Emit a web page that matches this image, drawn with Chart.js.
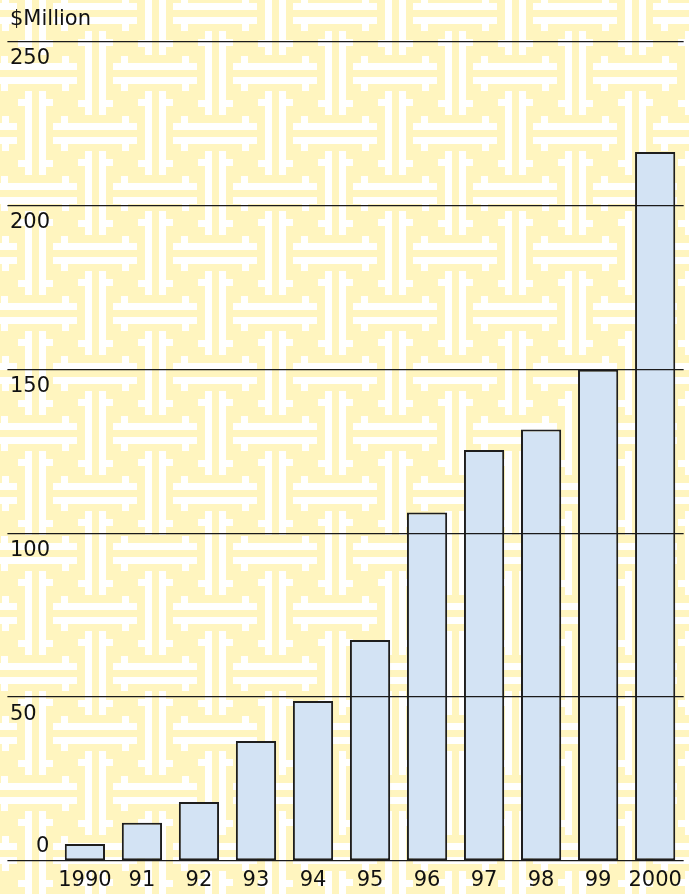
<!DOCTYPE html>
<html lang="en">
<head>
<meta charset="UTF-8">
<title>$Million</title>
<script src="https://cdn.jsdelivr.net/npm/chart.js"></script>
<style>
  html, body { margin: 0; padding: 0; }
  #wrap { width: 689px; height: 894px; }
</style>
</head>
<body>
<div id="wrap"><canvas id="myChart"></canvas></div>
<script>
// data ($ million per year)
var years = ['1990', '91', '92', '93', '94', '95', '96', '97', '98', '99', '2000'];
var amounts = [5.2, 11.7, 18.0, 36.6, 48.8, 67.4, 106.3, 125.4, 131.6, 149.9, 216.3];
var yMin = 0;
var yMax = 250;
var yStep = 50;

Chart.defaults.font.family = 'DejaVu Sans';
Chart.defaults.color = '#111';

// one fret motif, horizontal orientation: [x, y, w, h] around its centre
var motif = [
  [-42, -10.5, 84, 7], [-42, 3.5, 84, 7],
  [-34, -17.5, 7, 7], [27, -17.5, 7, 7],
  [-34, 10.5, 7, 7], [27, 10.5, 7, 7]
];

const fretBackground = {
  id: 'fretBackground',
  beforeDraw(chart) {
    const ctx = chart.ctx;
    const w = chart.width, h = chart.height;
    ctx.save();
    ctx.fillStyle = '#FFF5BF';
    ctx.fillRect(0, 0, w, h);
    ctx.fillStyle = '#FFFFFF';
    for (let j = -1; j <= Math.ceil(h / 60) + 1; j++) {
      for (let i = -1; i <= Math.ceil(w / 60) + 1; i++) {
        const cx = 35 + 60 * i, cy = 13 + 60 * j;
        const horiz = Math.abs(i + j) % 2 === 1;
        motif.forEach(r => {
          if (horiz) ctx.fillRect(cx + r[0], cy + 0.5 + r[1], r[2], r[3]);
          else ctx.fillRect(cx + 0.5 + r[1], cy + r[0], r[3], r[2]);
        });
      }
    }
    ctx.restore();
  }
};

// the zero label sits above its line, unlike the others
const zeroLabel = {
  id: 'zeroLabel',
  afterDraw(chart) {
    const ctx = chart.ctx;
    const y = chart.scales.y.getPixelForValue(0);
    ctx.save();
    ctx.font = '21px "DejaVu Sans"';
    ctx.fillStyle = '#111';
    ctx.textAlign = 'left';
    ctx.textBaseline = 'middle';
    ctx.fillText('0', 36, y - 14);
    ctx.restore();
  }
};

const ctx = document.getElementById('myChart');

new Chart(ctx, {
  type: 'bar',
  data: {
    labels: years,
    datasets: [{
      data: amounts,
      backgroundColor: '#D3E3F4',
      borderColor: '#1e1e1e',
      borderWidth: 2,
      borderSkipped: false,
      barPercentage: 0.705,
      categoryPercentage: 1
    }]
  },
  plugins: [fretBackground, zeroLabel],
  options: {
    responsive: true,
    maintainAspectRatio: false,
    animation: false,
    layout: { padding: { left: 10, right: 3, top: 0, bottom: 0 } },
    plugins: {
      legend: { display: false },
      tooltip: { enabled: false },
      title: {
        display: true,
        text: '$Million',
        align: 'start',
        color: '#111',
        font: { size: 21, weight: 'normal' },
        padding: { top: 7.4, bottom: 8.9 }
      }
    },
    scales: {
      x: {
        grid: { display: false, drawTicks: false },
        border: { display: false },
        ticks: { font: { size: 21 }, padding: 7, maxRotation: 0, autoSkip: false },
        afterFit: scale => { scale.height = 33; }
      },
      y: {
        min: yMin,
        max: yMax,
        border: { display: false },
        grid: { color: '#1a1a1a', lineWidth: 1.3, tickLength: 49, z: 1 },
        ticks: {
          stepSize: yStep,
          crossAlign: 'far',
          labelOffset: 17,
          font: { size: 21 },
          callback: v => (v === 0 ? '' : v)
        },
        afterFit: scale => { scale.width = 46.4; }
      }
    }
  }
});
</script>
</body>
</html>
